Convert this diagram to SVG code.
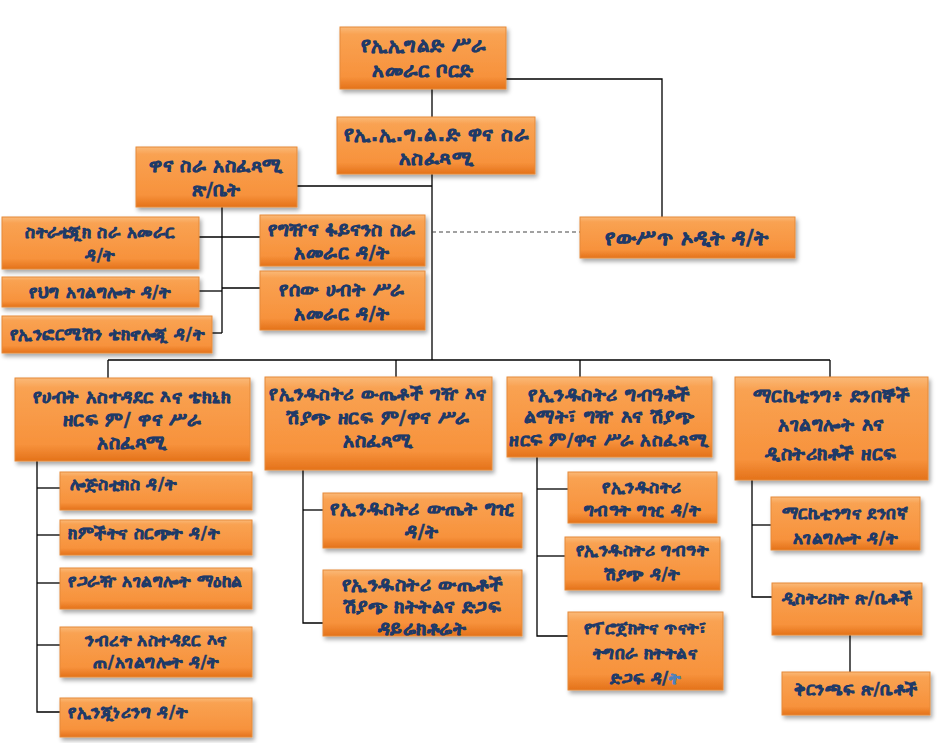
<svg xmlns="http://www.w3.org/2000/svg" width="937" height="743" viewBox="0 0 937 743">
<defs>
<linearGradient id="og" x1="0" y1="0" x2="0" y2="1">
<stop offset="0" stop-color="#FAB978"/>
<stop offset="0.12" stop-color="#F9A252"/>
<stop offset="0.8" stop-color="#F7923C"/>
<stop offset="1" stop-color="#E4721A"/>
</linearGradient>
<filter id="sh" x="-10%" y="-10%" width="130%" height="140%">
<feDropShadow dx="2" dy="3" stdDeviation="2" flood-color="#000" flood-opacity="0.35"/>
</filter>
</defs>
<style>
.b{fill:url(#og);stroke:#E58A3A;stroke-width:1;filter:url(#sh)}
.t{font-family:"DejaVu Sans","Noto Sans",sans-serif;font-weight:bold;font-size:19px;fill:#1F3A68;stroke:#1F3A68;stroke-width:0.5;text-anchor:middle;letter-spacing:0.5px}
.s{font-size:17px}
.l{text-anchor:start}
.c{stroke:#000;stroke-width:1.3;fill:none}
.d{stroke:#444;stroke-width:1.2;stroke-dasharray:4 3;fill:none}
</style>
<rect width="937" height="743" fill="#fff"/>
<g id="connectors">
<polyline class="c" points="506,79 662,79 662,217"/>
<line class="c" x1="432" y1="89" x2="432" y2="117"/>
<line class="c" x1="432" y1="174" x2="432" y2="360"/>
<line class="d" x1="432" y1="232" x2="580" y2="232"/>
<line class="c" x1="297" y1="186" x2="432" y2="186"/>
<line class="c" x1="222" y1="207" x2="222" y2="333"/>
<line class="c" x1="199" y1="237" x2="260" y2="237"/>
<line class="c" x1="199" y1="291" x2="222" y2="291"/>
<line class="c" x1="222" y1="288" x2="260" y2="288"/>
<line class="c" x1="212" y1="333" x2="222" y2="333"/>
<line class="c" x1="108" y1="360" x2="830" y2="360"/>
<line class="c" x1="108" y1="360" x2="108" y2="378"/>
<line class="c" x1="396" y1="360" x2="396" y2="377"/>
<line class="c" x1="580" y1="360" x2="580" y2="377"/>
<line class="c" x1="830" y1="360" x2="830" y2="377"/>
<polyline class="c" points="37,461 37,712 60,712"/>
<line class="c" x1="37" y1="488" x2="60" y2="488"/>
<line class="c" x1="37" y1="535" x2="60" y2="535"/>
<line class="c" x1="37" y1="583" x2="60" y2="583"/>
<line class="c" x1="37" y1="645" x2="60" y2="645"/>
<polyline class="c" points="303,470 303,623 323,623"/>
<line class="c" x1="303" y1="510" x2="323" y2="510"/>
<polyline class="c" points="537,457 537,636 568,636"/>
<line class="c" x1="537" y1="489" x2="568" y2="489"/>
<line class="c" x1="537" y1="556" x2="565" y2="556"/>
<polyline class="c" points="752,480 752,597 772,597"/>
<line class="c" x1="752" y1="525" x2="771" y2="525"/>
<line class="c" x1="850" y1="635" x2="850" y2="672"/>
</g>
<g id="board"><rect class="b" x="340" y="27" width="166" height="62"/>
<text class="t" x="423" y="52" style="font-size:20px">የኢኢግልድ  ሥራ</text><text class="t" x="423" y="77" style="font-size:20px">አመራር   ቦርድ</text></g>
<g id="ceo"><rect class="b" x="337" y="117" width="198" height="57"/>
<text class="t" x="436" y="141" style="font-size:20px">የኢ.ኢ.ግ.ል.ድ  ዋና  ስራ</text><text class="t" x="436" y="165" style="font-size:20px">አስፈጻሚ</text></g>
<g id="office"><rect class="b" x="136" y="147" width="161" height="60"/>
<text class="t" x="216" y="172">ዋና  ስራ  አስፈጻሚ</text><text class="t" x="216" y="196">ጽ/ቤት</text></g>
<g id="strategic"><rect class="b" x="2" y="217" width="197" height="52"/>
<text class="t s" x="100" y="238">ስትራቴጂክ  ስራ  አመራር</text><text class="t s" x="100" y="261">ዳ/ት</text></g>
<g id="legal"><rect class="b" x="2" y="277" width="197" height="30"/>
<text class="t s" x="100" y="298">የህግ  አገልግሎት  ዳ/ት</text></g>
<g id="it"><rect class="b" x="2" y="316" width="210" height="37"/>
<text class="t s" x="107" y="340">የኢንፎርሜሽን  ቴክኖሎጂ  ዳ/ት</text></g>
<g id="procurement"><rect class="b" x="260" y="215" width="165" height="51"/>
<text class="t" x="342" y="236">የግዥና  ፋይናንስ  ስራ</text><text class="t" x="342" y="259">አመራር  ዳ/ት</text></g>
<g id="hr"><rect class="b" x="260" y="271" width="165" height="59"/>
<text class="t" x="342" y="296">የሰው  ሀብት  ሥራ</text><text class="t" x="342" y="320">አመራር   ዳ/ት</text></g>
<g id="audit"><rect class="b" x="580" y="217" width="215" height="41"/>
<text class="t" x="687" y="245" style="font-size:21px">የውሥጥ  ኦዲት  ዳ/ት</text></g>
<g id="sector1"><rect class="b" x="15" y="378" width="235" height="83"/>
<text class="t" x="132" y="403" style="font-size:18px">የሀብት አስተዳደር እና ቴክኒክ</text><text class="t" x="132" y="426">ዘርፍ ም/ ዋና ሥራ</text><text class="t" x="132" y="449">አስፈጻሚ</text></g>
<g id="sector2"><rect class="b" x="265" y="377" width="227" height="93"/>
<text class="t" x="378" y="400" style="font-size:18px">የኢንዱስትሪ ውጤቶች ግዥ እና</text><text class="t" x="378" y="424">ሽያጭ ዘርፍ ም/ዋና ሥራ</text><text class="t" x="378" y="447">አስፈጻሚ</text></g>
<g id="sector3"><rect class="b" x="507" y="377" width="205" height="80"/>
<text class="t" x="609" y="401">የኢንዱስትሪ  ግብዓቶች</text><text class="t" x="609" y="423">ልማት፣ ግዥ እና ሽያጭ</text><text class="t" x="609" y="446" style="font-size:18px">ዘርፍ ም/ዋና ሥራ አስፈጻሚ</text></g>
<g id="sector4"><rect class="b" x="735" y="377" width="193" height="103"/>
<text class="t" x="831" y="402">ማርኬቲንግ፥ ደንበኞች</text><text class="t" x="831" y="431">አገልግሎት እና</text><text class="t" x="831" y="460">ዲስትሪክቶች ዘርፍ</text></g>
<g id="logistics"><rect class="b" x="60" y="472" width="192" height="38"/>
<text class="t s l" x="70" y="490">ሎጅስቲክስ ዳ/ት</text></g>
<g id="storage"><rect class="b" x="60" y="520" width="192" height="35"/>
<text class="t s l" x="68" y="539">ክምችትና ስርጭት ዳ/ት</text></g>
<g id="garage"><rect class="b" x="60" y="568" width="192" height="41"/>
<text class="t s l" x="68" y="587">የጋራዥ አገልግሎት ማዕከል</text></g>
<g id="property"><rect class="b" x="60" y="627" width="192" height="50"/>
<text class="t s" x="156" y="646">ንብረት  አስተዳደር   እና</text><text class="t s" x="156" y="668">ጠ/አገልግሎት ዳ/ት</text></g>
<g id="engineering"><rect class="b" x="60" y="698" width="192" height="39"/>
<text class="t s l" x="68" y="718">የኢንጂነሪንግ  ዳ/ት</text></g>
<g id="product-purchase"><rect class="b" x="323" y="493" width="199" height="55"/>
<text class="t" x="422" y="515">የኢንዱስትሪ  ውጤት  ግዢ</text><text class="t" x="422" y="538">ዳ/ት</text></g>
<g id="product-sales"><rect class="b" x="323" y="570" width="199" height="66"/>
<text class="t" x="422" y="591">የኢንዱስትሪ  ውጤቶች</text><text class="t" x="422" y="613">ሽያጭ  ክትትልና  ድጋፍ</text><text class="t" x="422" y="635">ዳይሬክቶሬት</text></g>
<g id="input-purchase"><rect class="b" x="568" y="472" width="149" height="51"/>
<text class="t s" x="642" y="493">የኢንዱስትሪ</text><text class="t s" x="642" y="516">ግብዓት ግዢ   ዳ/ት</text></g>
<g id="input-sales"><rect class="b" x="565" y="537" width="155" height="53"/>
<text class="t s" x="642" y="556">የኢንዱስትሪ ግብዓት</text><text class="t s" x="642" y="580">ሽያጭ   ዳ/ት</text></g>
<g id="project"><rect class="b" x="568" y="612" width="155" height="78"/>
<text class="t s" x="645" y="634">የፕሮጀክትና  ጥናት፣</text><text class="t s" x="645" y="659">ትግበራ  ክትትልና</text><text class="t s" x="645" y="684">ድጋፍ      ዳ/<tspan fill="#4F81BD" stroke="#4F81BD">ት</tspan></text></g>
<g id="marketing"><rect class="b" x="771" y="497" width="149" height="53"/>
<text class="t s" x="845" y="519">ማርኬቲንግና  ደንበኛ</text><text class="t s" x="845" y="544">አገልግሎት  ዳ/ት</text></g>
<g id="district"><rect class="b" x="772" y="583" width="150" height="52"/>
<text class="t s" x="847" y="604">ዲስትሪክት ጽ/ቤቶች</text></g>
<g id="branch"><rect class="b" x="782" y="672" width="148" height="43"/>
<text class="t s" x="856" y="695">ቅርንጫፍ ጽ/ቤቶች</text></g>
</svg>
